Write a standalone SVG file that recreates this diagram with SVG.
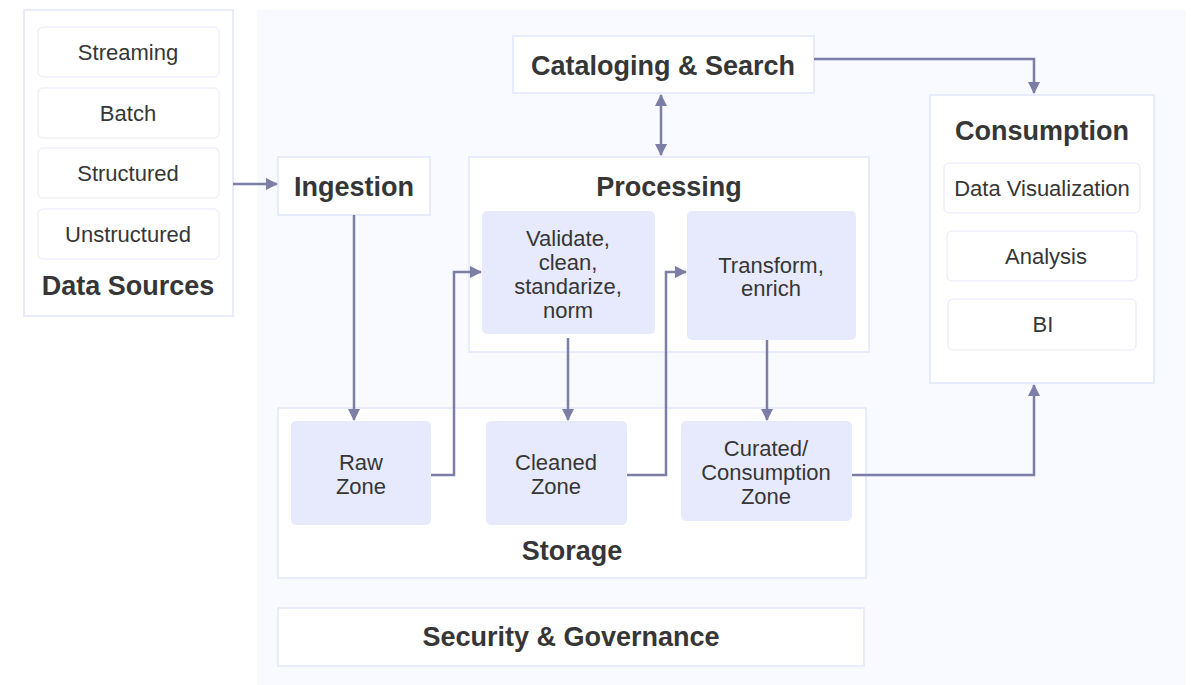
<svg xmlns="http://www.w3.org/2000/svg" width="1191" height="685" viewBox="0 0 1191 685">
<style>
.panel{fill:#f9faff}
.outer{fill:#ffffff;stroke:#e8ebfb;stroke-width:2}
.item{fill:#ffffff;stroke:#eef0fb;stroke-width:1.5}
.step{fill:#e6eafc;stroke:none}
.t{font-family:"Liberation Sans",Arial,sans-serif;fill:#363636;text-anchor:middle}
.r{font-size:22px}
.b{font-size:27px;font-weight:bold}
.c{fill:none;stroke:#7c7ea6;stroke-width:2.5}
</style>
<defs>
<marker id="ah" viewBox="0 0 12 12" refX="11" refY="6" markerWidth="12" markerHeight="12" markerUnits="userSpaceOnUse" orient="auto-start-reverse">
<path d="M0,0 L12,6 L0,12 Z" fill="#7c7ea6"/>
</marker>
</defs>
<rect x="0" y="0" width="1191" height="685" fill="#ffffff"/>
<rect class="panel" x="257" y="10" width="929" height="675"/>

<g id="data-sources">
<rect class="outer" x="24" y="10" width="209" height="306"/>
<rect class="item" x="38" y="27" width="181" height="50" rx="5"/>
<text class="t r" x="128" y="60">Streaming</text>
<rect class="item" x="38" y="88" width="181" height="50" rx="5"/>
<text class="t r" x="128" y="121">Batch</text>
<rect class="item" x="38" y="148" width="181" height="50" rx="5"/>
<text class="t r" x="128" y="181">Structured</text>
<rect class="item" x="38" y="209" width="181" height="50" rx="5"/>
<text class="t r" x="128" y="242">Unstructured</text>
<text class="t b" x="128" y="295">Data Sources</text>
</g>

<g id="ingestion">
<rect class="outer" x="278" y="157" width="152" height="58"/>
<text class="t b" x="354" y="196">Ingestion</text>
</g>

<g id="cataloging">
<rect class="outer" x="513" y="36" width="301" height="57"/>
<text class="t b" x="663" y="75">Cataloging &amp; Search</text>
</g>

<g id="processing">
<rect class="outer" x="469" y="157" width="400" height="195"/>
<text class="t b" x="669" y="196">Processing</text>
</g>

<g id="validate">
<rect class="step" x="482" y="211" width="173" height="123" rx="5"/>
<text class="t r" x="568" y="246">Validate,</text>
<text class="t r" x="568" y="270">clean,</text>
<text class="t r" x="568" y="294">standarize,</text>
<text class="t r" x="568" y="318">norm</text>
</g>

<g id="transform">
<rect class="step" x="687" y="211" width="169" height="129" rx="5"/>
<text class="t r" x="771" y="273">Transform,</text>
<text class="t r" x="771" y="296">enrich</text>
</g>

<g id="consumption">
<rect class="outer" x="930" y="95" width="224" height="288"/>
<text class="t b" x="1042" y="140">Consumption</text>
<rect class="item" x="944" y="163" width="196" height="50" rx="5"/>
<text class="t r" x="1042" y="196">Data Visualization</text>
<rect class="item" x="947" y="231" width="190" height="50" rx="5"/>
<text class="t r" x="1046" y="264">Analysis</text>
<rect class="item" x="948" y="299" width="188" height="51" rx="5"/>
<text class="t r" x="1043" y="332">BI</text>
</g>

<g id="storage">
<rect class="outer" x="278" y="408" width="588" height="170"/>
<text class="t b" x="572" y="560">Storage</text>
</g>

<g id="raw-zone">
<rect class="step" x="291" y="421" width="140" height="104" rx="5"/>
<text class="t r" x="361" y="470">Raw</text>
<text class="t r" x="361" y="494">Zone</text>
</g>

<g id="cleaned-zone">
<rect class="step" x="486" y="421" width="141" height="104" rx="5"/>
<text class="t r" x="556" y="470">Cleaned</text>
<text class="t r" x="556" y="494">Zone</text>
</g>

<g id="curated-zone">
<rect class="step" x="681" y="421" width="171" height="100" rx="5"/>
<text class="t r" x="766" y="456">Curated/</text>
<text class="t r" x="766" y="480">Consumption</text>
<text class="t r" x="766" y="504">Zone</text>
</g>

<g id="security">
<rect class="outer" x="278" y="608" width="586" height="58"/>
<text class="t b" x="571" y="646">Security &amp; Governance</text>
</g>

<g id="connectors">
<path class="c" d="M233,184 L277,184" marker-end="url(#ah)"/>
<path class="c" d="M661,95 L661,155" marker-start="url(#ah)" marker-end="url(#ah)"/>
<path class="c" d="M814,59 L1034,59 L1034,93" marker-end="url(#ah)"/>
<path class="c" d="M354,215 L354,420" marker-end="url(#ah)"/>
<path class="c" d="M431,475 L454,475 L454,272 L481,272" marker-end="url(#ah)"/>
<path class="c" d="M568,338 L568,420" marker-end="url(#ah)"/>
<path class="c" d="M627,475 L666,475 L666,272 L686,272" marker-end="url(#ah)"/>
<path class="c" d="M767,340 L767,420" marker-end="url(#ah)"/>
<path class="c" d="M852,475 L1034,475 L1034,385" marker-end="url(#ah)"/>
</g>
</svg>
